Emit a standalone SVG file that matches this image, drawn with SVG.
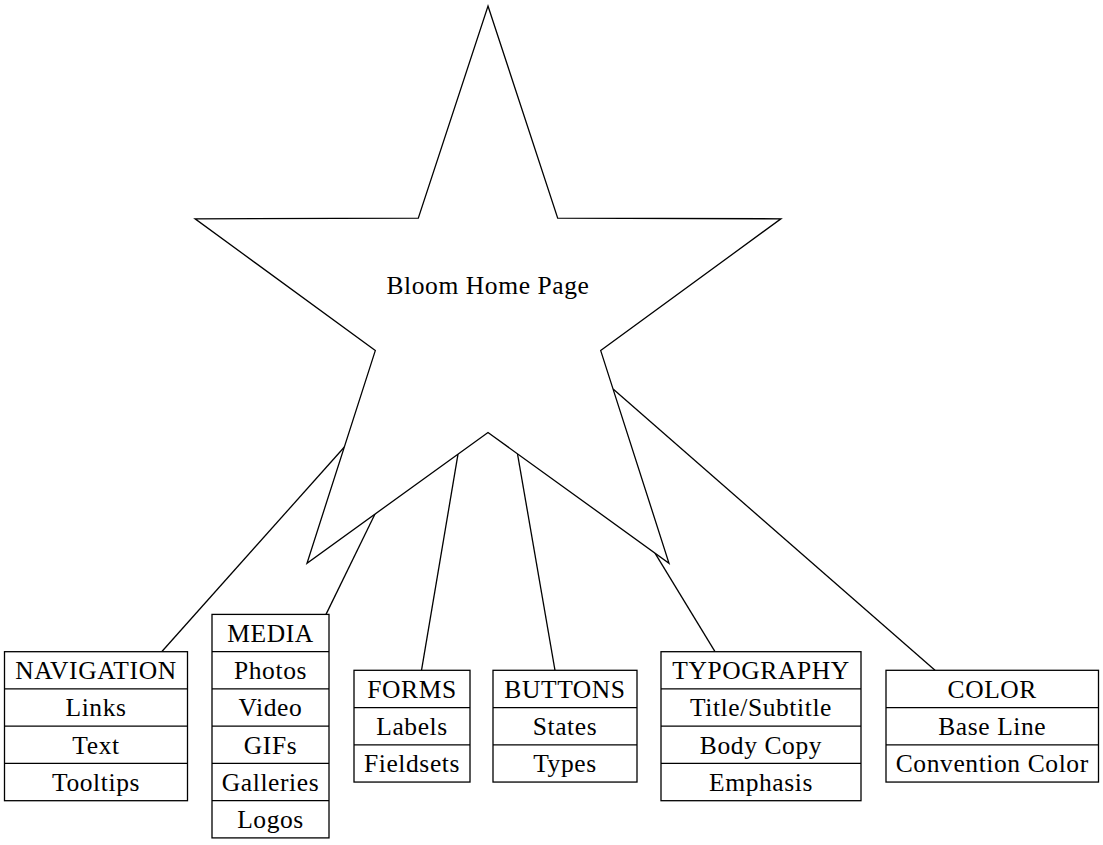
<svg xmlns="http://www.w3.org/2000/svg" width="1103" height="845" viewBox="0 0 1103 845">
<style>
  .shape { fill: #fff; stroke: #000; stroke-width: 1.3; }
  .sep { stroke: #000; stroke-width: 1.3; }
  .conn line { stroke: #000; stroke-width: 1.3; }
  text { font-family: "Liberation Serif", "Times New Roman", serif; font-size: 25.5px; letter-spacing: 0.6px; text-anchor: middle; fill: #000; }
</style>
<rect width="1103" height="845" fill="#fff"/>
<g id="connectors" class="conn">
  <line x1="344.4" y1="447" x2="161.7" y2="651.7"/>
  <line x1="375" y1="514" x2="326" y2="614.4"/>
  <line x1="458" y1="454.2" x2="421.5" y2="670.3"/>
  <line x1="517.5" y1="453.8" x2="555" y2="670.3"/>
  <line x1="655" y1="553.1" x2="715" y2="651.7"/>
  <line x1="613.1" y1="389" x2="935" y2="670.3"/>
</g>
<g id="home">
  <polygon class="shape" points="488,6 557.7,218.1 780.9,218.8 600.7,350.6 669,563.2 488,432.5 307,563.2 375.3,350.6 195.1,218.8 418.3,218.1"/>
  <text x="488" y="294">Bloom Home Page</text>
</g>
<g id="navigation">
  <rect class="shape" x="4.5" y="651.7" width="183" height="149"/>
  <line class="sep" x1="4.5" y1="688.95" x2="187.5" y2="688.95"/>
  <line class="sep" x1="4.5" y1="726.2" x2="187.5" y2="726.2"/>
  <line class="sep" x1="4.5" y1="763.45" x2="187.5" y2="763.45"/>
  <text x="96" y="679.2">NAVIGATION</text>
  <text x="96" y="716.45">Links</text>
  <text x="96" y="753.7">Text</text>
  <text x="96" y="790.95">Tooltips</text>
</g>
<g id="media">
  <rect class="shape" x="212" y="614.4" width="117" height="223.5"/>
  <line class="sep" x1="212" y1="651.65" x2="329" y2="651.65"/>
  <line class="sep" x1="212" y1="688.9" x2="329" y2="688.9"/>
  <line class="sep" x1="212" y1="726.15" x2="329" y2="726.15"/>
  <line class="sep" x1="212" y1="763.4" x2="329" y2="763.4"/>
  <line class="sep" x1="212" y1="800.65" x2="329" y2="800.65"/>
  <text x="270.5" y="641.9">MEDIA</text>
  <text x="270.5" y="679.15">Photos</text>
  <text x="270.5" y="716.4">Video</text>
  <text x="270.5" y="753.65">GIFs</text>
  <text x="270.5" y="790.9">Galleries</text>
  <text x="270.5" y="828.15">Logos</text>
</g>
<g id="forms">
  <rect class="shape" x="354" y="670.3" width="116" height="111.75"/>
  <line class="sep" x1="354" y1="707.55" x2="470" y2="707.55"/>
  <line class="sep" x1="354" y1="744.8" x2="470" y2="744.8"/>
  <text x="412" y="697.8">FORMS</text>
  <text x="412" y="735.05">Labels</text>
  <text x="412" y="772.3">Fieldsets</text>
</g>
<g id="buttons">
  <rect class="shape" x="493" y="670.3" width="144" height="111.75"/>
  <line class="sep" x1="493" y1="707.55" x2="637" y2="707.55"/>
  <line class="sep" x1="493" y1="744.8" x2="637" y2="744.8"/>
  <text x="565" y="697.8">BUTTONS</text>
  <text x="565" y="735.05">States</text>
  <text x="565" y="772.3">Types</text>
</g>
<g id="typography">
  <rect class="shape" x="661" y="651.7" width="200" height="149"/>
  <line class="sep" x1="661" y1="688.95" x2="861" y2="688.95"/>
  <line class="sep" x1="661" y1="726.2" x2="861" y2="726.2"/>
  <line class="sep" x1="661" y1="763.45" x2="861" y2="763.45"/>
  <text x="761" y="679.2">TYPOGRAPHY</text>
  <text x="761" y="716.45">Title/Subtitle</text>
  <text x="761" y="753.7">Body Copy</text>
  <text x="761" y="790.95">Emphasis</text>
</g>
<g id="color">
  <rect class="shape" x="886" y="670.3" width="212.5" height="111.75"/>
  <line class="sep" x1="886" y1="707.55" x2="1098.5" y2="707.55"/>
  <line class="sep" x1="886" y1="744.8" x2="1098.5" y2="744.8"/>
  <text x="992.25" y="697.8">COLOR</text>
  <text x="992.25" y="735.05">Base Line</text>
  <text x="992.25" y="772.3">Convention Color</text>
</g>
</svg>
